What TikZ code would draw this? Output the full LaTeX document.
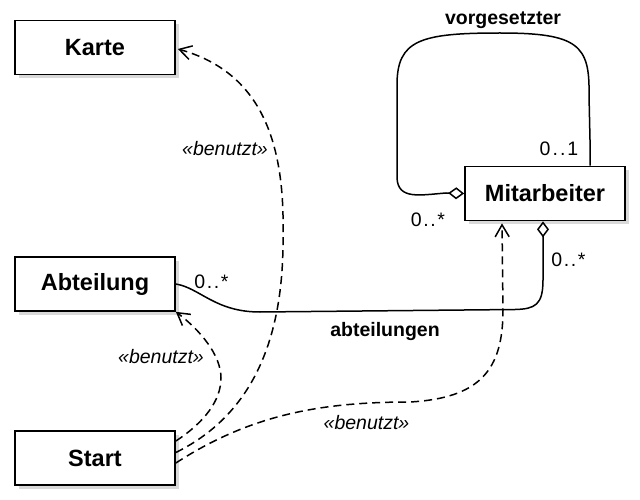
\documentclass[tikz,border=0pt]{standalone}
\usepackage{fontspec}
\setmainfont{Liberation Sans}
\usetikzlibrary{arrows.meta,shadows,calc}
\begin{document}
\begin{tikzpicture}[x=1pt,y=-1pt,
 classbox/.style={draw, line width=1.7pt, fill=white, minimum width=160pt, minimum height=54pt, inner sep=0pt,
   font=\fontsize{23.5}{27}\selectfont\bfseries,
   drop shadow={shadow xshift=3.5pt, shadow yshift=-3.5pt, opacity=0.3}},
 assoc/.style={line width=1.5pt},
 uses/.style={line width=1.5pt, dash pattern=on 8pt off 5pt, -{Straight Barb[length=12pt,width=14pt,line width=1.5pt]}},
 agg/.style={{Diamond[fill=white,length=16pt,width=12pt,line width=1.5pt]}-},
 mult/.style={font=\fontsize{19.5}{22}\selectfont, anchor=base, inner sep=0pt},
 rolelabel/.style={font=\fontsize{19.5}{22}\selectfont\bfseries, anchor=base, inner sep=0pt},
 stereo/.style={font=\fontsize{19.5}{22}\selectfont\itshape, anchor=base, inner sep=0pt}]
\useasboundingbox (0,0) rectangle (640,500);

\node[classbox] (karte) at (95,47.5) {Karte};
\node[classbox] (abteilung) at (95,284) {Abteilung};
\node[classbox] (start) at (95,458) {Start};
\node[classbox] (mitarbeiter) at (545,193.5) {Mitarbeiter};

% self association
\draw[assoc, agg] (mitarbeiter.west) -- (446,193) .. controls (420,195) and (398,200) .. (397,178) -- (397,85)
  .. controls (397,40) and (420,33) .. (500,33) .. controls (578,33) and (590,45) .. (589,95) -- (590,140)
  -- ([xshift=45pt]mitarbeiter.north);

% abteilungen association
\draw[assoc, agg] ([xshift=-2pt]mitarbeiter.south) -- (543,280) .. controls (543,305) and (535,309) .. (515,309.5)
  -- (260,312) .. controls (215,312) and (200,288) .. (abteilung.east);

% dependencies
\draw[uses] ([yshift=17pt]start.east) .. controls (205,422) and (221,400) .. (221,378)
  .. controls (221,355) and (200,330) .. (abteilung.south east);
\draw[uses] ([yshift=5.5pt]start.east) .. controls (258,412) and (284,330) .. (283,235)
  .. controls (285,140) and (260,72) .. ([xshift=2pt,yshift=-1.5pt]karte.east);
\draw[uses] ([yshift=-5pt]start.east) .. controls (250,415) and (320,402) .. (410,402)
  .. controls (480,398) and (503,370) .. (503,310) -- ([xshift=-43pt,yshift=-2pt]mitarbeiter.south);

% labels
\node[rolelabel] (lvorg) at (503,25) {vorgesetzter};
\node[rolelabel] (labt) at (385,336) {abteilungen};
\node[mult] (m1) at (559,156) {0\kern2pt.\kern2pt.\kern2pt1};
\node[mult] (m2) at (428,226) {0\kern1.6pt.\kern1.6pt.\kern1.6pt*};
\node[mult] (m3) at (568.5,266) {0\kern1.6pt.\kern1.6pt.\kern1.6pt*};
\node[mult] (m4) at (211.5,288) {0\kern1.6pt.\kern1.6pt.\kern1.6pt*};
\node[stereo] (s1) at (225,156) {«benutzt»};
\node[stereo] (s2) at (161,363) {«benutzt»};
\node[stereo] (s3) at (366.5,429) {«benutzt»};
\end{tikzpicture}
\end{document}
